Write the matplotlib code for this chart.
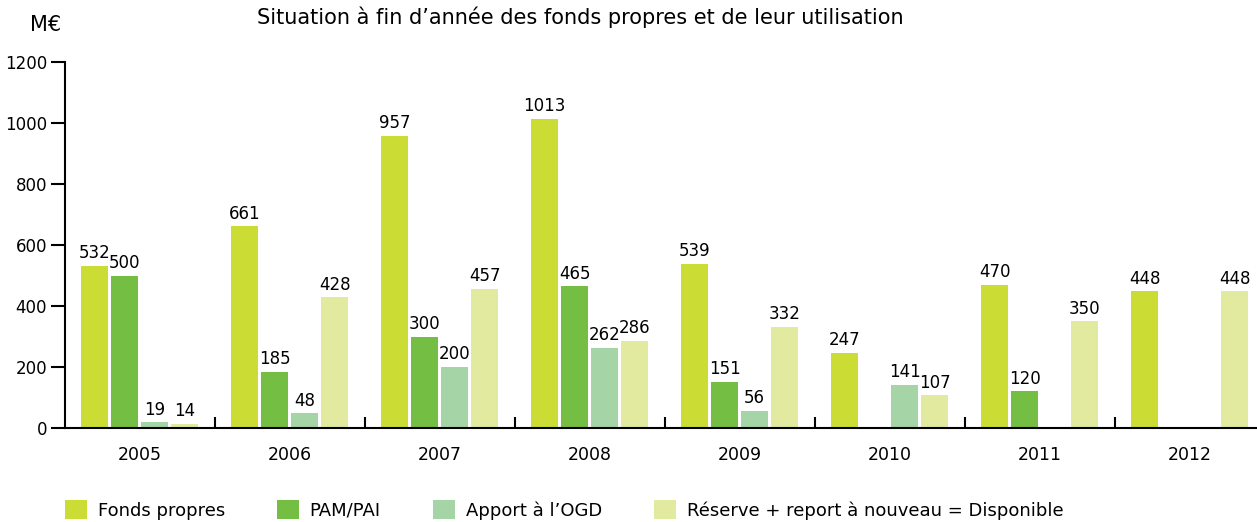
import matplotlib.pyplot as plt
import numpy as np

plt.rcParams['font.family'] = ['DejaVu Sans']

years = ['2005', '2006', '2007', '2008', '2009', '2010', '2011', '2012']
fonds_propres = [532, 661, 957, 1013, 539, 247, 470, 448]
pam_pai = [500, 185, 300, 465, 151, 0, 120, 0]
apport_ogd = [19, 48, 200, 262, 56, 141, 0, 0]
reserve = [14, 428, 457, 286, 332, 107, 350, 448]

series = [
    ('Fonds propres', fonds_propres, '#cbdc35'),
    ('PAM/PAI', pam_pai, '#74be44'),
    ('Apport à l\u2019OGD', apport_ogd, '#a5d5a6'),
    ('Réserve + report à nouveau = Disponible', reserve, '#e2ea9f'),
]

fig = plt.figure(figsize=(12.57, 5.22), dpi=100)
ax = fig.add_axes([65 / 1257, 94 / 522, 1 - 65 / 1257, 366 / 522])

x = np.arange(len(years)) + 0.5
width = 0.18
step = 0.2
for i, (name, vals, color) in enumerate(series):
    pos = x + (i - 1.5) * step
    bars = ax.bar(pos, vals, width, color=color, label=name, zorder=2)
    for b, v in zip(bars, vals):
        if v > 0:
            ax.text(b.get_x() + b.get_width() / 2, v + 12, str(v),
                    ha='center', va='bottom', fontsize=12)

ax.set_xlim(0, 7.95)
ax.set_ylim(0, 1200)
ax.set_yticks(range(0, 1201, 200))
ax.tick_params(axis='y', direction='out', length=10, width=1.5, labelsize=12, pad=3)

ax.set_xticks(np.arange(1, 8))
ax.set_xticklabels([])
ax.set_xticks(x, minor=True)
ax.set_xticklabels(years, minor=True)
ax.tick_params(axis='x', which='major', direction='in', length=8, width=1.5)
ax.tick_params(axis='x', which='minor', length=0, labelsize=12.5, pad=13)

for s in ['top', 'right']:
    ax.spines[s].set_visible(False)
ax.spines['left'].set_linewidth(1.5)
ax.spines['bottom'].set_linewidth(1.5)

fig.text(580 / 1257, 1 - 17 / 522, 'Situation à fin d\u2019année des fonds propres et de leur utilisation',
         ha='center', va='center', fontsize=15)
fig.text(46 / 1257, 1 - 25 / 522, 'M€', ha='center', va='center', fontsize=15)

ax.legend(loc='upper left', bbox_to_anchor=(-0.006, -0.178), ncol=4, frameon=False,
          fontsize=13, handlelength=1.2, handleheight=1.2, handletextpad=0.6,
          columnspacing=2.9, borderaxespad=0)

plt.savefig('out.png', dpi=100)
